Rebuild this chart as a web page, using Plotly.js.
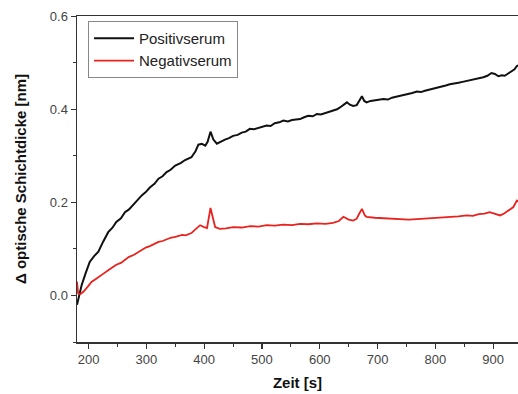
<!DOCTYPE html>
<html>
<head>
<meta charset="utf-8">
<script src="https://cdn.plot.ly/plotly-3.0.1.min.js"></script>
<style>html,body{margin:0;padding:0;background:#fff;}#chart{width:518px;height:394px;}</style>
</head>
<body>
<div id="chart"></div>
<script>
const posX = [180,184,188,195,202,210,217,225,234,241,248,256,263,270,278,285,292,299,306,314,321,328,335,342,350,360,367,378,385,390,396,402,406,411,416,422,429,436,443,450,458,465,472,479,486,494,501,508,515,522,530,537,545,552,559,566,573,580,588,595,602,610,617,623,630,635,641,647,652,658,664,668,673,677,681,688,695,703,710,718,725,732,739,746,753,760,768,775,782,789,796,804,811,818,825,832,840,847,854,861,868,876,883,890,897,903,909,915,920,926,932,937,941,945];
const posY = [-0.02,0.005,0.022,0.048,0.072,0.085,0.094,0.115,0.136,0.145,0.158,0.166,0.179,0.185,0.196,0.204,0.215,0.222,0.232,0.24,0.251,0.256,0.265,0.27,0.279,0.285,0.291,0.297,0.31,0.324,0.326,0.322,0.33,0.352,0.335,0.326,0.331,0.335,0.338,0.343,0.345,0.35,0.352,0.358,0.357,0.36,0.363,0.365,0.364,0.37,0.372,0.376,0.374,0.377,0.378,0.379,0.383,0.386,0.385,0.39,0.389,0.392,0.395,0.397,0.4,0.404,0.41,0.415,0.41,0.407,0.409,0.418,0.428,0.418,0.415,0.418,0.419,0.42,0.422,0.421,0.425,0.427,0.429,0.43,0.433,0.435,0.438,0.437,0.44,0.442,0.444,0.446,0.449,0.451,0.454,0.455,0.457,0.459,0.461,0.462,0.464,0.467,0.469,0.472,0.478,0.476,0.471,0.473,0.472,0.477,0.483,0.486,0.493,0.495];
const negX = [180,182,186,191,198,205,212,220,227,234,241,248,256,263,270,278,285,292,299,306,314,321,328,335,342,350,356,362,368,373,378,383,388,393,400,405,411,415,419,427,438,450,465,480,494,508,522,537,552,566,580,595,610,623,633,641,650,658,664,668,673,678,681,695,710,725,740,754,768,782,796,811,825,840,854,865,875,885,894,905,912,919,926,935,941,945];
const negY = [0.03,0.004,0.003,0.008,0.018,0.029,0.035,0.043,0.048,0.054,0.06,0.066,0.07,0.077,0.083,0.087,0.092,0.097,0.103,0.106,0.111,0.115,0.117,0.121,0.124,0.126,0.128,0.13,0.129,0.131,0.134,0.14,0.146,0.151,0.147,0.145,0.188,0.165,0.147,0.143,0.144,0.147,0.146,0.149,0.148,0.151,0.15,0.152,0.151,0.154,0.153,0.155,0.154,0.156,0.16,0.169,0.163,0.161,0.165,0.175,0.186,0.172,0.169,0.167,0.166,0.165,0.165,0.163,0.164,0.165,0.166,0.167,0.169,0.17,0.172,0.171,0.175,0.176,0.179,0.174,0.172,0.176,0.183,0.19,0.204,0.2];
const names = ["Positivserum","Negativserum"];

const traces = [
  {x: posX, y: posY, name: names[0], type: 'scatter', mode: 'lines', line: {color: '#111111', width: 2}},
  {x: negX, y: negY, name: names[1], type: 'scatter', mode: 'lines', line: {color: '#e8221e', width: 1.8}}
];
const font = "Liberation Sans, Arial, sans-serif";
const layout = {
  width: 518, height: 394,
  margin: {l: 77, r: 0, t: 16, b: 52},
  paper_bgcolor: '#fff', plot_bgcolor: '#fff',
  showlegend: true,
  legend: {x: 0.025, y: 0.985, xanchor: 'left', yanchor: 'top', bgcolor: '#fff', bordercolor: '#888', borderwidth: 1,
           itemwidth: 40, font: {family: font, size: 15, color: '#222'}, tracegroupgap: 0},
  xaxis: {
    range: [180, 943], showgrid: false, zeroline: false,
    showline: true, linecolor: '#333', linewidth: 1.5, mirror: true,
    ticks: 'outside', ticklen: 5, tickcolor: '#333', tickwidth: 1.2,
    tick0: 200, dtick: 100,
    minor: {dtick: 50, tick0: 150, ticks: 'outside', ticklen: 3, tickcolor: '#333', tickwidth: 1},
    tickfont: {family: font, size: 13, color: '#444'},
    title: {text: '<b>Zeit [s]</b>', font: {family: font, size: 15, color: '#111'}, standoff: 11}
  },
  yaxis: {
    range: [-0.1, 0.6005], showgrid: false, zeroline: false,
    showline: true, linecolor: '#333', linewidth: 1.5, mirror: true,
    ticks: 'outside', ticklen: 5, tickcolor: '#333', tickwidth: 1.2,
    tick0: 0, dtick: 0.2, tickformat: '.1f',
    minor: {dtick: 0.1, ticks: 'outside', ticklen: 3, tickcolor: '#333', tickwidth: 1},
    tickfont: {family: font, size: 13, color: '#444'},
    title: {text: '<b>Δ optische Schichtdicke [nm]</b>', font: {family: font, size: 15, color: '#111'}, standoff: 19}
  }
};
Plotly.newPlot('chart', traces, layout, {displayModeBar: false, staticPlot: true});
</script>
</body>
</html>
